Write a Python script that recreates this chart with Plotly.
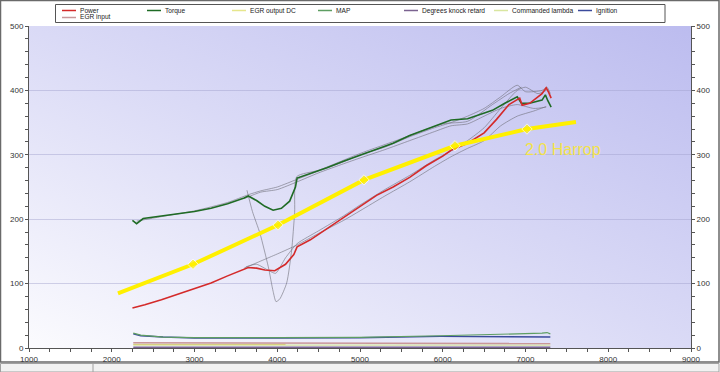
import plotly.graph_objects as go
import base64

# ---------------- data ----------------
torque_rpm = [2250, 2300, 2380, 2600, 2800, 3000, 3200, 3400, 3600, 3650, 3750, 3850, 3950, 4050, 4150, 4220, 4240,
              4400, 4600, 4800, 5000, 5200, 5400, 5600, 5800, 6000, 6100, 6300, 6500, 6600, 6750, 6900, 6950, 7050,
              7200, 7240, 7270, 7310]
torque = [198, 193, 201, 205, 209, 212, 217, 224, 233, 236, 229, 220, 214, 217, 228, 250, 264,
          271, 280, 290, 299, 309, 318, 330, 340, 350, 354, 356, 365, 369, 380, 390, 380, 380,
          385, 393, 384, 374]

power_rpm = [2250, 2400, 2600, 2800, 3000, 3200, 3400, 3600, 3650, 3750, 3850, 3970, 4100, 4200, 4240,
             4400, 4600, 4800, 5000, 5200, 5400, 5600, 5800, 6000, 6100, 6300, 6500, 6650, 6800, 6930, 6960,
             7050, 7200, 7250, 7280, 7310]
power = [62, 67, 75, 84, 92, 101, 112, 122, 125, 124, 121, 120, 130, 145, 157,
         168, 185, 203, 220, 237, 250, 265, 283, 298, 307, 318, 334, 355, 378, 388, 377,
         380, 395, 404, 397, 388]

# earlier runs (grey overlays)
ghost_t1_rpm = [2300, 2600, 3000, 3400, 3650, 3800, 4000, 4240, 4500, 4800, 5000, 5300, 5600, 5900, 6100, 6300,
                6500, 6700, 6900, 7000, 7200, 7260, 7300]
ghost_t1 = [197, 204, 213, 226, 238, 244, 250, 262, 275, 289, 300, 312, 328, 342, 350, 360,
            372, 390, 408, 398, 400, 405, 395]
ghost_t2_rpm = [3600, 3800, 4000, 4240, 4500, 4800, 5000, 5300, 5600, 5900, 6100, 6300, 6500, 6700, 6900, 7100, 7250]
ghost_t2 = [232, 242, 246, 258, 272, 286, 295, 308, 322, 336, 345, 348, 360, 372, 378, 372, 374]
ghost_t3_rpm = [3634, 3700, 3791, 3892, 3950, 3985, 4030, 4114, 4174, 4210, 4235, 4500, 5000, 5500, 6000, 6300,
                6600, 6800, 6950]
ghost_t3 = [245, 212, 178, 126, 88, 72, 76, 101, 152, 210, 266, 276, 302, 325, 348, 352, 378, 395, 405]

ghost_p1_rpm = [3600, 3800, 4000, 4240, 4500, 4800, 5000, 5300, 5600, 5900, 6100, 6300, 6500, 6700, 6900, 7100, 7250]
ghost_p1 = [124, 135, 146, 160, 178, 198, 213, 236, 258, 282, 297, 310, 322, 345, 360, 368, 375]
ghost_p2_rpm = [3620, 3750, 3900, 3980, 4100, 4240, 4500, 4800, 5000, 5300, 5600, 5900, 6100, 6300, 6500, 6700,
                6900, 7000, 7150, 7250]
ghost_p2 = [126, 130, 120, 116, 140, 162, 182, 205, 222, 246, 268, 292, 306, 322, 342, 372, 400, 405, 395, 400]

# low-range channels
map_rpm = [2260, 2350, 2620, 3000, 4000, 5000, 5970, 6500, 7000, 7200, 7260, 7300]
map_v = [23, 20, 17, 16, 16, 16.5, 19, 20.5, 22, 23, 24, 22]
ign_rpm = [2260, 2350, 2620, 3000, 4000, 5000, 5970, 6500, 7000, 7300]
ign_v = [22, 19, 17, 15.5, 15.5, 16, 18, 18, 17.5, 17]
egr_in_rpm = [2260, 4000, 5000, 7300]
egr_in = [8, 7.5, 7, 7]
lambda_rpm = [2260, 4000, 7300]
lambda_v = [4.5, 4.5, 4.5]
egr_dc_rpm = [2260, 3000, 4100]
egr_dc = [5.5, 5.5, 5.5]
knock_rpm = [2260, 6200, 7300]
knock = [1, 1, 1]

# reference curve "2.0 Harrop"
harrop_rpm = [2075, 2982, 4009, 5048, 6148, 7018, 7610]
harrop = [85, 130, 191, 261, 314, 340, 351]
harrop_marker = [0, 8, 8, 8, 8, 8, 0]

series_names = ["Power", "Torque", "EGR output DC", "MAP", "Degrees knock retard",
                "Commanded lambda", "Ignition", "EGR input"]
series_colors = ["#d42a2a", "#1f6b25", "#e6e68c", "#5e9e62", "#7b6390",
                 "#d9e6a0", "#3b4a9c", "#c9979a"]

x_ticks = [1000, 2000, 3000, 4000, 5000, 6000, 7000, 8000, 9000]
y_ticks = [0, 100, 200, 300, 400, 500]

# ---------------- figure ----------------
W, H = 720, 372
L, R, T, B = 29, 691, 26, 348


def xp(px):
    return (px - L) / (R - L)


def yp(py):
    return (B - py) / (B - T)


col = dict(zip(series_names, series_colors))
fig = go.Figure()

ghost_style = dict(color="rgba(110,110,120,0.75)", width=0.8)
for gx, gy in [(ghost_t1_rpm, ghost_t1), (ghost_t2_rpm, ghost_t2), (ghost_t3_rpm, ghost_t3),
               (ghost_p1_rpm, ghost_p1), (ghost_p2_rpm, ghost_p2)]:
    fig.add_trace(go.Scatter(x=gx, y=gy, mode="lines", line=dict(ghost_style, shape="spline", smoothing=0.6),
                             showlegend=False, hoverinfo="skip"))

fig.add_trace(go.Scatter(x=knock_rpm, y=knock, mode="lines", name="Degrees knock retard",
                         line=dict(color=col["Degrees knock retard"], width=1.5)))
fig.add_trace(go.Scatter(x=lambda_rpm, y=lambda_v, mode="lines", name="Commanded lambda",
                         line=dict(color=col["Commanded lambda"], width=1.2)))
fig.add_trace(go.Scatter(x=egr_dc_rpm, y=egr_dc, mode="lines", name="EGR output DC",
                         line=dict(color="#d8d080", width=1.2)))
fig.add_trace(go.Scatter(x=egr_in_rpm, y=egr_in, mode="lines", name="EGR input",
                         line=dict(color=col["EGR input"], width=1.5)))
fig.add_trace(go.Scatter(x=ign_rpm, y=ign_v, mode="lines", name="Ignition",
                         line=dict(color=col["Ignition"], width=1.4)))
fig.add_trace(go.Scatter(x=map_rpm, y=map_v, mode="lines", name="MAP",
                         line=dict(color=col["MAP"], width=1.2)))
fig.add_trace(go.Scatter(x=torque_rpm, y=torque, mode="lines", name="Torque",
                         line=dict(color=col["Torque"], width=1.6)))
fig.add_trace(go.Scatter(x=power_rpm, y=power, mode="lines", name="Power",
                         line=dict(color=col["Power"], width=1.6)))
fig.add_trace(go.Scatter(x=harrop_rpm, y=harrop, mode="lines+markers", name="2.0 Harrop",
                         line=dict(color="#fff000", width=4),
                         marker=dict(color="#fff000", size=harrop_marker, symbol="diamond")))
# invisible trace for the right-hand axis
fig.add_trace(go.Scatter(x=[1000, 9000], y=[0, 500], mode="markers", yaxis="y2",
                         marker=dict(opacity=0), showlegend=False, hoverinfo="skip"))

# gradient background for the plot area
svg = ('<svg xmlns="http://www.w3.org/2000/svg" width="662" height="322" preserveAspectRatio="none">'
       '<defs><linearGradient id="g" x1="0" y1="1" x2="1" y2="0">'
       '<stop offset="0" stop-color="#fbfbfe"/><stop offset="0.5" stop-color="#dadaf6"/>'
       '<stop offset="1" stop-color="#bcbcef"/></linearGradient></defs>'
       '<rect width="662" height="322" fill="url(#g)"/></svg>')
svg_uri = "data:image/svg+xml;base64," + base64.b64encode(svg.encode()).decode()

tickfont = dict(family="Liberation Sans Narrow, Arial Narrow, Liberation Sans, sans-serif", size=8, color="#333")
axis_common = dict(showline=True, linecolor="#555", linewidth=1, ticks="outside", ticklen=3, tickcolor="#555",
                   tickfont=tickfont, zeroline=False, automargin=False)

shapes = []
annotations = []

# outer frame and bottom strip
shapes.append(dict(type="rect", xref="paper", yref="paper", x0=xp(0.5), x1=xp(719), y0=yp(362), y1=yp(0.5),
                   line=dict(color="#6a6a6a", width=1.5), fillcolor="rgba(0,0,0,0)", layer="below"))
shapes.append(dict(type="rect", xref="paper", yref="paper", x0=xp(0.5), x1=xp(719), y0=yp(372), y1=yp(363.5),
                   line=dict(color="#a0a0a0", width=1), fillcolor="#f2f2f2", layer="below"))
shapes.append(dict(type="line", xref="paper", yref="paper", x0=xp(93), x1=xp(93), y0=yp(372), y1=yp(364),
                   line=dict(color="#a0a0a0", width=1)))

# manual legend
shapes.append(dict(type="rect", xref="paper", yref="paper", x0=xp(55.5), x1=xp(665), y0=yp(22.5), y1=yp(4.5),
                   line=dict(color="#555", width=1), fillcolor="white"))
legend_pos = [(62, 10.5), (147, 10.5), (232, 10.5), (318, 10.5), (404, 10.5), (494, 10.5), (578, 10.5),
              (62, 17.5)]
legfont = dict(family="Liberation Sans Narrow, Arial Narrow, Liberation Sans, sans-serif", size=6.6, color="#222")
for name, c, (lx, ly) in zip(series_names, series_colors, legend_pos):
    shapes.append(dict(type="line", xref="paper", yref="paper", x0=xp(lx), x1=xp(lx + 14), y0=yp(ly), y1=yp(ly),
                       line=dict(color=c, width=1.5)))
    annotations.append(dict(xref="paper", yref="paper", x=xp(lx + 17), y=yp(ly), text=name, showarrow=False,
                            xanchor="left", yanchor="middle", font=legfont, borderpad=0))

annotations.append(dict(x=6970, y=309, xref="x", yref="y", text="2.0 Harrop", showarrow=False,
                        xanchor="left", yanchor="middle",
                        font=dict(family="Liberation Sans, sans-serif", size=16, color="#f3e24a")))

fig.update_layout(
    width=W, height=H,
    margin=dict(l=L, r=W - R, t=T, b=H - B, autoexpand=False),
    paper_bgcolor="white",
    plot_bgcolor="rgba(0,0,0,0)",
    showlegend=False,
    xaxis=dict(range=[1000, 9000], tickvals=x_ticks, showgrid=False,
               minor=dict(dtick=250, ticks="outside", ticklen=3, tickcolor="#555"), **axis_common),
    yaxis=dict(range=[0, 500], tickvals=y_ticks, showgrid=True, gridcolor="rgba(160,160,205,0.45)", gridwidth=1,
               minor=dict(dtick=20, ticks="outside", ticklen=3, tickcolor="#555", showgrid=False), **axis_common),
    yaxis2=dict(range=[0, 500], tickvals=y_ticks, overlaying="y", side="right", showgrid=False,
                minor=dict(dtick=20, ticks="outside", ticklen=3, tickcolor="#555"), **axis_common),
    images=[dict(source=svg_uri, xref="paper", yref="paper", x=0, y=1, sizex=1, sizey=1,
                 sizing="stretch", layer="below", xanchor="left", yanchor="top")],
    shapes=shapes,
    annotations=annotations,
)

fig.write_html("out.html", config={"displayModeBar": False},
               post_script="document.body.style.margin='0';document.body.style.overflow='hidden';")
